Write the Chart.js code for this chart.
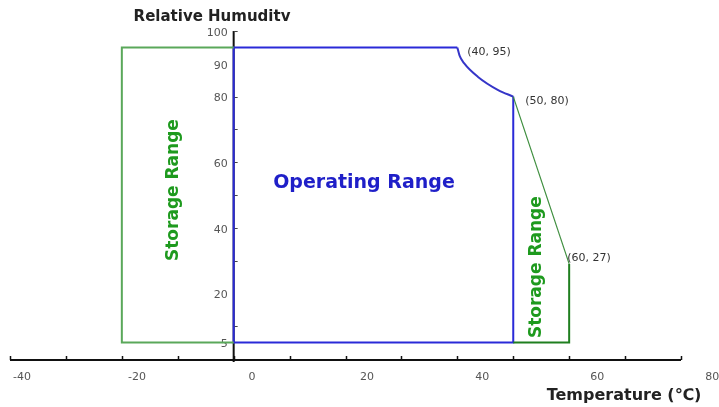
<!DOCTYPE html>
<html>
<head>
<meta charset="utf-8">
<script src="https://cdn.jsdelivr.net/npm/chart.js@4"></script>
<style>
  body { margin: 0; background: #fff; }
  #chart { display: block; }
</style>
</head>
<body>
<canvas id="chart" width="719" height="407"></canvas>
<script>
// temperature (x) / relative humidity (y) outlines
const opBoxT  = [40, 0, 0, 50, 50];
const opBoxRH = [95, 95, 5, 5, 80];
const opCurveT  = [40, 40.4, 41.2, 43.7, 47.3, 50];
const opCurveRH = [95, 92.5, 90.2, 86, 82, 80];
const stLeftT  = [0, -20, -20, 0];
const stLeftRH = [95, 95, 5, 5];
const stSlopeT  = [50, 60];
const stSlopeRH = [80, 29];
const stRightT  = [60, 60, 50];
const stRightRH = [29, 5, 5];

const cornerT  = [40, 50, 60];
const cornerRH = [95, 80, 29];
const cornerLabels = ['(40, 95)', '(50, 80)', '(60, 27)'];

const xTicks = [-40, -20, 0, 20, 40, 60, 80];
const yTicks = [100, 90, 80, 60, 40, 20, 5];
const yMinorTicks = [100, 80, 70, 60, 50, 40, 30, 10];

const pts = (xs, ys) => xs.map((x, i) => ({x: x, y: ys[i]}));

function line(data, color, width, smooth) {
  return {
    data: data,
    borderColor: color,
    borderWidth: width,
    pointRadius: 0,
    showLine: true,
    fill: false,
    tension: smooth ? 0.4 : 0,
    cubicInterpolationMode: smooth ? 'monotone' : 'default'
  };
}

// axes, tick labels and texts
const decor = {
  id: 'decor',
  beforeDatasetsDraw(chart) {
    const ctx = chart.ctx;
    const xs = chart.scales.x, ys = chart.scales.y;
    const x0 = xs.getPixelForValue(0);
    const yBase = ys.getPixelForValue(0) + 1;
    ctx.save();
    ctx.strokeStyle = '#111';
    ctx.lineWidth = 2;
    ctx.beginPath();
    ctx.moveTo(xs.left, yBase);
    ctx.lineTo(xs.right, yBase);
    ctx.moveTo(x0, ys.top);
    ctx.lineTo(x0, yBase + 2);
    ctx.stroke();
    ctx.lineWidth = 1.5;
    ctx.beginPath();
    for (let v = -40; v <= 80; v += 10) {
      const px = Math.round(xs.getPixelForValue(v)) + 0.5;
      ctx.moveTo(px, yBase - 4);
      ctx.lineTo(px, yBase);
    }
    ctx.stroke();
    ctx.strokeStyle = '#444';
    ctx.lineWidth = 1;
    ctx.beginPath();
    yMinorTicks.forEach(v => {
      const py = Math.round(ys.getPixelForValue(v)) + 0.5;
      ctx.moveTo(x0, py);
      ctx.lineTo(x0 + 4, py);
    });
    ctx.stroke();

    ctx.fillStyle = '#555';
    ctx.font = '11px "DejaVu Sans"';
    ctx.textBaseline = 'middle';
    ctx.textAlign = 'center';
    xTicks.forEach(v => {
      ctx.fillText(String(v), xs.getPixelForValue(v) + 12 + (v + 40) * 0.16, yBase + 17);
    });
    ctx.textAlign = 'right';
    yTicks.forEach(v => {
      ctx.fillText(String(v), x0 - 6, ys.getPixelForValue(v) + 2);
    });
    ctx.restore();
  },
  afterDatasetsDraw(chart) {
    const ctx = chart.ctx;
    const xs = chart.scales.x, ys = chart.scales.y;
    ctx.save();
    ctx.textBaseline = 'middle';

    ctx.fillStyle = '#222';
    ctx.font = 'bold 15px "DejaVu Sans"';
    ctx.textAlign = 'center';
    ctx.fillText('Relative Humuditv', 212, 17);
    ctx.font = 'bold 16px "DejaVu Sans"';
    ctx.fillText('Temperature (℃)', 624, 396);

    ctx.fillStyle = '#333';
    ctx.font = '11px "DejaVu Sans"';
    ctx.textAlign = 'left';
    const offs = [[10, 5], [12, 5], [-2, -6]];
    cornerLabels.forEach((t, i) => {
      ctx.fillText(t, xs.getPixelForValue(cornerT[i]) + offs[i][0],
                   ys.getPixelForValue(cornerRH[i]) + offs[i][1]);
    });

    ctx.textAlign = 'center';
    ctx.fillStyle = '#1f1fc8';
    ctx.font = 'bold 19px "DejaVu Sans"';
    ctx.fillText('Operating Range', xs.getPixelForValue(23.3), ys.getPixelForValue(53.7));

    ctx.fillStyle = '#1e9a1e';
    ctx.font = 'bold 17px "DejaVu Sans"';
    [[-10.7, 51.5], [54.2, 28]].forEach(p => {
      ctx.save();
      ctx.translate(xs.getPixelForValue(p[0]), ys.getPixelForValue(p[1]));
      ctx.rotate(-Math.PI / 2);
      ctx.fillText('Storage Range', 0, 0);
      ctx.restore();
    });
    ctx.restore();
  }
};

new Chart(document.getElementById('chart'), {
  type: 'scatter',
  data: {
    datasets: [
      line(pts(stLeftT, stLeftRH), '#5aa85a', 2),
      line(pts(stSlopeT, stSlopeRH), '#3e8e3e', 1.2),
      line(pts(stRightT, stRightRH), '#1f7f1f', 2),
      line(pts(opBoxT, opBoxRH), '#2a2ad8', 2),
      line(pts(opCurveT, opCurveRH), '#3535c8', 2, true)
    ]
  },
  options: {
    responsive: false,
    animation: false,
    layout: { padding: { left: 10, right: 38, top: 31, bottom: 48 } },
    scales: {
      x: { type: 'linear', min: -40, max: 80, display: false },
      y: { type: 'linear', min: 0, max: 100, display: false }
    },
    plugins: { legend: { display: false }, tooltip: { enabled: false } }
  },
  plugins: [decor]
});
</script>
</body>
</html>
